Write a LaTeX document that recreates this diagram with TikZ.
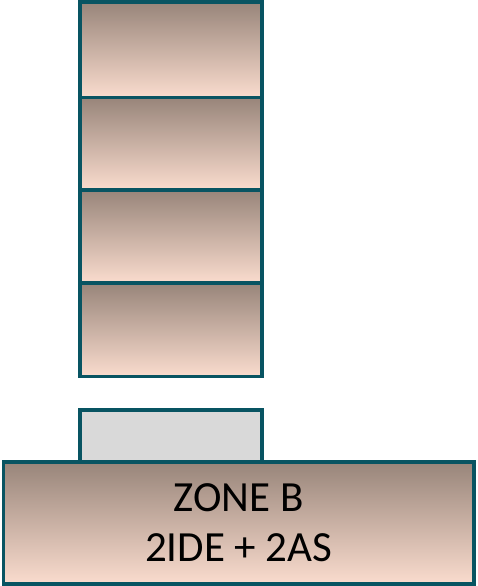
\documentclass[tikz,border=0pt]{standalone}
\usepackage{fontspec}
\setmainfont{Carlito}
\definecolor{edgeteal}{RGB}{8,84,98}
\definecolor{topbrown}{RGB}{152,133,122}
\definecolor{botpeach}{RGB}{250,220,206}
\definecolor{boxgray}{RGB}{217,217,217}
\begin{document}
\begin{tikzpicture}[x=1pt,y=-1pt,
  box/.style={draw=edgeteal, line width=3.5pt, rectangle, inner sep=0pt, outer sep=0pt,
    top color=topbrown, bottom color=botpeach},
  graybox/.style={draw=edgeteal, line width=3.5pt, rectangle, inner sep=0pt, outer sep=0pt, fill=boxgray}]
\useasboundingbox (0,0) rectangle (477,586);
\node[box, minimum width=182pt, minimum height=95.5pt] (b1) at (171,49.75) {};
\node[box, minimum width=182pt, minimum height=92.5pt] (b2) at (171,143.75) {};
\node[box, minimum width=182pt, minimum height=93pt] (b3) at (171,236.5) {};
\node[box, minimum width=182pt, minimum height=93.5pt] (b4) at (171,329.75) {};
\node[graybox, minimum width=182pt, minimum height=52pt] (g) at (171,436) {};
\node[box, minimum width=470.5pt, minimum height=122pt, align=center,
  font=\fontsize{43}{50}\selectfont] (zone) at (238.75,523) {ZONE B\\2IDE + 2AS};
\end{tikzpicture}
\end{document}
